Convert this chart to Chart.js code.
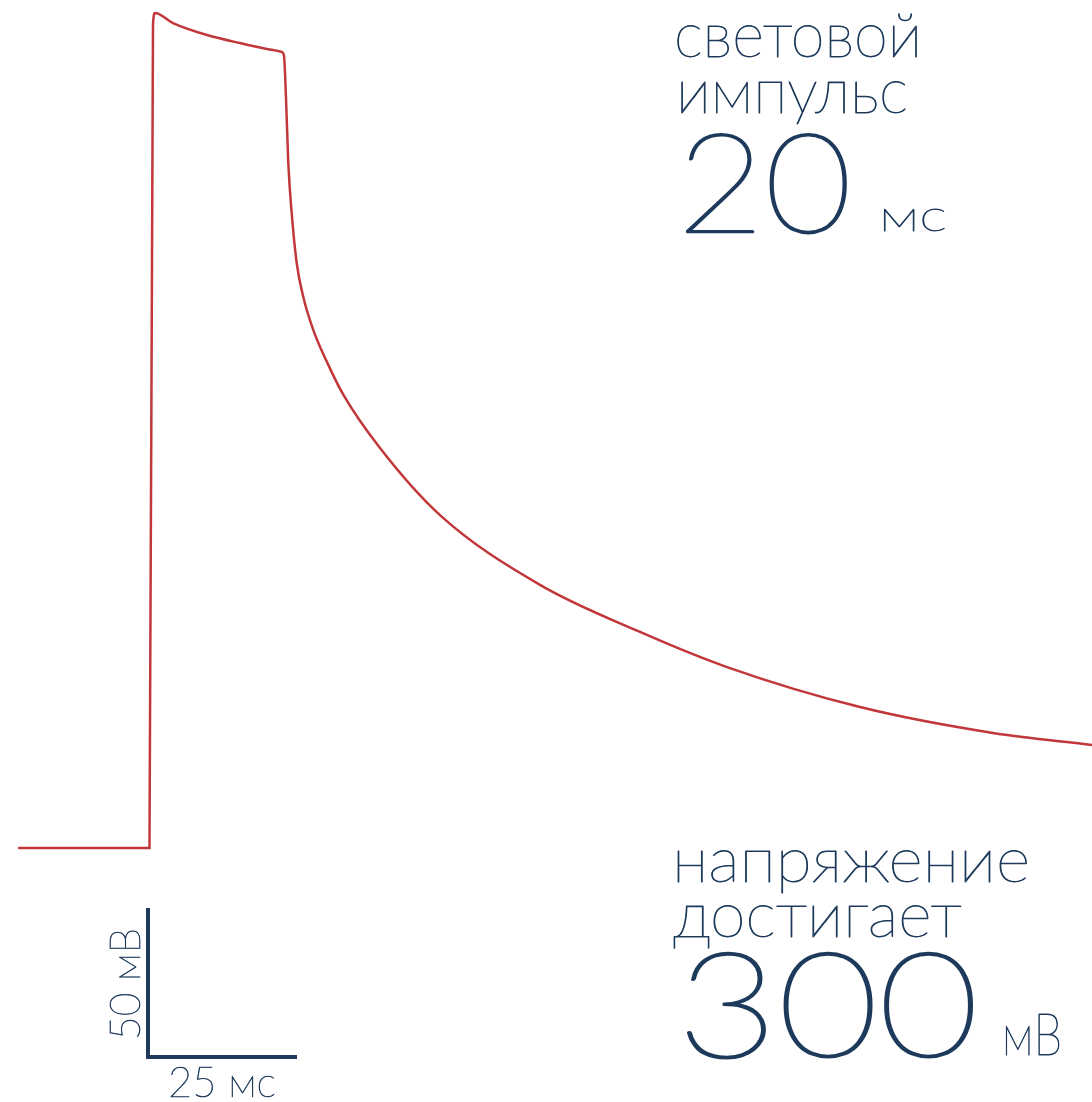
<!DOCTYPE html>
<html>
<head>
<meta charset="utf-8">
<script src="https://cdn.jsdelivr.net/npm/chart.js@4.4.1/dist/chart.umd.min.js"></script>
<style>
  html, body { margin: 0; padding: 0; background: #fff; }
  #wrap { width: 1092px; height: 1102px; }
</style>
</head>
<body>
<div id="wrap"><canvas id="traceCanvas" width="1092" height="1102"></canvas></div>
<script>
// membrane voltage trace (ms from pulse onset, mV over rest)
const timeMs = [-21.8, 0, 0.25, 0.84, 1.17, 4.19, 9.90, 15.44, 20.97, 22.48,
  22.82, 23.15, 23.54, 24.11, 24.95, 26.06, 27.74, 29.98, 32.72, 38.93,
  48.99, 65.77, 82.55, 97.15, 119.46, 141.78, 158.39];
const voltageMv = [0, 0, 0, 276.2, 280.2, 276.8, 272.8, 270.1, 267.8, 267.1,
  265.8, 252.0, 229.9, 213.1, 196.3, 184.9, 173.8, 163.3, 152.3, 134.2,
  111.7, 88.3, 72.5, 60.7, 47.3, 38.6, 34.6];

// scale bar: 25 ms by 50 mV
const barTime = [25, 0, 0];
const barVolt = [-70.1, -70.1, -20.1];
const barLabels = ['25 мс', '50 мВ'];

const pulseText = ['световой', 'импульс', '20', 'мс'];
const peakText = ['напряжение', 'достигает', '300', 'мВ'];

const red = '#c1373a';
const navy = '#1d3a5c';
const FONT = '"Lato", "Open Sans", "Noto Sans", sans-serif';

function toPoints(xs, ys) {
  return xs.map((x, i) => ({ x: x, y: ys[i] }));
}

// thin text squeezed/stretched to a given width, thickened by a stroke
function fitText(ctx, str, left, baseline, size, width, weight) {
  ctx.save();
  ctx.font = '200 ' + size + 'px ' + FONT;
  const w = ctx.measureText(str).width;
  ctx.translate(left, baseline);
  ctx.scale(width / w, 1);
  ctx.fillText(str, 0, 0);
  ctx.lineWidth = weight;
  ctx.lineJoin = 'round';
  ctx.strokeText(str, 0, 0);
  ctx.restore();
}

const textPlugin = {
  id: 'captions',
  afterDraw(chart) {
    const ctx = chart.ctx;
    ctx.save();
    ctx.fillStyle = navy;
    ctx.strokeStyle = navy;
    ctx.textBaseline = 'alphabetic';
    ctx.textAlign = 'left';

    fitText(ctx, pulseText[0], 674, 57, 62, 248, 0.9);
    fitText(ctx, pulseText[1], 676, 113, 62, 232, 0.9);
    fitText(ctx, pulseText[2], 677, 232, 138, 175, 2.2);
    fitText(ctx, pulseText[3], 879, 231, 44, 68, 0.8);

    fitText(ctx, peakText[0], 672, 882, 62, 358, 0.9);
    fitText(ctx, peakText[1], 673, 937, 62, 289, 0.9);
    fitText(ctx, peakText[2], 677, 1057, 146, 302, 2.4);
    fitText(ctx, peakText[3], 1002, 1055, 58, 60, 0.9);

    fitText(ctx, barLabels[0], 168, 1097, 42, 108, 0.7);

    ctx.save();
    ctx.translate(140, 1040);
    ctx.rotate(-Math.PI / 2);
    fitText(ctx, barLabels[1], 0, 0, 42, 112, 0.7);
    ctx.restore();

    ctx.restore();
  }
};

new Chart(document.getElementById('traceCanvas'), {
  type: 'line',
  data: {
    datasets: [{
      label: 'напряжение',
      data: toPoints(timeMs, voltageMv),
      borderColor: red,
      borderWidth: 2.5,
      pointRadius: 0,
      cubicInterpolationMode: 'monotone',
      fill: false
    }, {
      label: 'масштаб',
      data: toPoints(barTime, barVolt),
      borderColor: navy,
      borderWidth: 4,
      pointRadius: 0,
      tension: 0,
      borderCapStyle: 'butt',
      borderJoinStyle: 'miter',
      fill: false
    }]
  },
  options: {
    responsive: false,
    animation: false,
    layout: { padding: 0 },
    scales: {
      x: { type: 'linear', min: -24.83, max: 158.39, display: false },
      y: { type: 'linear', min: -85.23, max: 284.56, display: false }
    },
    plugins: {
      legend: { display: false },
      tooltip: { enabled: false }
    }
  },
  plugins: [textPlugin]
});
</script>
</body>
</html>
